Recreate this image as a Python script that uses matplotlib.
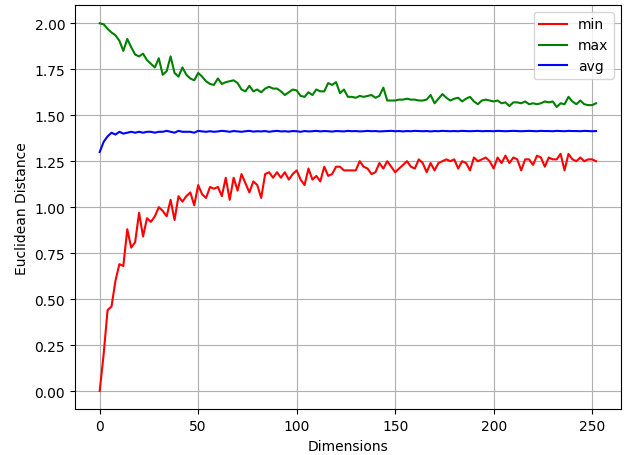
import numpy as np
import matplotlib
matplotlib.use("Agg")
import matplotlib.pyplot as plt

dims = np.arange(0, 254, 2)

min_dist = [
    0.00, 0.20, 0.44, 0.46, 0.60, 0.69, 0.68, 0.88, 0.78, 0.81,
    0.97, 0.84, 0.94, 0.92, 0.95, 1.00, 0.98, 0.95, 1.04, 0.93,
    1.06, 1.03, 1.06, 1.08, 1.01, 1.12, 1.07, 1.05, 1.11, 1.10,
    1.11, 1.06, 1.16, 1.04, 1.16, 1.09, 1.18, 1.13, 1.08, 1.14,
    1.12, 1.05, 1.18, 1.19, 1.16, 1.19, 1.16, 1.19, 1.15, 1.18,
    1.20, 1.15, 1.12, 1.21, 1.15, 1.17, 1.14, 1.22, 1.17, 1.18,
    1.22, 1.22, 1.20, 1.20, 1.20, 1.20, 1.25, 1.22, 1.21, 1.18,
    1.19, 1.24, 1.21, 1.25, 1.22, 1.19, 1.21, 1.23, 1.25, 1.22,
    1.21, 1.26, 1.24, 1.19, 1.24, 1.20, 1.24, 1.25, 1.26, 1.25,
    1.26, 1.21, 1.25, 1.24, 1.20, 1.27, 1.25, 1.26, 1.27, 1.25,
    1.21, 1.27, 1.24, 1.28, 1.24, 1.27, 1.26, 1.20, 1.26, 1.26,
    1.23, 1.28, 1.27, 1.22, 1.27, 1.26, 1.26, 1.29, 1.20, 1.29,
    1.26, 1.25, 1.27, 1.25, 1.26, 1.26, 1.25,
]

max_dist = [
    2.000, 1.995, 1.970, 1.950, 1.935, 1.905, 1.850, 1.915, 1.870, 1.830,
    1.820, 1.835, 1.800, 1.780, 1.760, 1.810, 1.720, 1.740, 1.820, 1.730,
    1.710, 1.760, 1.720, 1.700, 1.690, 1.730, 1.710, 1.685, 1.670, 1.665,
    1.700, 1.670, 1.680, 1.685, 1.690, 1.675, 1.640, 1.630, 1.660, 1.630,
    1.640, 1.625, 1.645, 1.655, 1.645, 1.645, 1.630, 1.610, 1.625, 1.640,
    1.635, 1.605, 1.600, 1.625, 1.610, 1.640, 1.630, 1.630, 1.675, 1.665,
    1.680, 1.620, 1.640, 1.600, 1.600, 1.595, 1.605, 1.600, 1.605, 1.610,
    1.595, 1.605, 1.650, 1.580, 1.580, 1.580, 1.585, 1.585, 1.590, 1.585,
    1.585, 1.580, 1.580, 1.585, 1.610, 1.565, 1.590, 1.615, 1.595, 1.580,
    1.590, 1.595, 1.575, 1.590, 1.600, 1.575, 1.560, 1.580, 1.585, 1.580,
    1.575, 1.580, 1.565, 1.570, 1.550, 1.570, 1.570, 1.565, 1.575, 1.560,
    1.565, 1.560, 1.565, 1.575, 1.570, 1.575, 1.545, 1.565, 1.560, 1.600,
    1.575, 1.560, 1.580, 1.560, 1.555, 1.555, 1.565,
]

avg_dist = [
    1.300, 1.355, 1.385, 1.405, 1.395, 1.410, 1.400, 1.405, 1.410, 1.405,
    1.410, 1.405, 1.410, 1.410, 1.405, 1.410, 1.410, 1.415, 1.410, 1.405,
    1.415, 1.410, 1.410, 1.410, 1.405, 1.415, 1.412, 1.410, 1.413, 1.410,
    1.412, 1.415, 1.413, 1.410, 1.414, 1.412, 1.410, 1.413, 1.415, 1.411,
    1.413, 1.412, 1.414, 1.410, 1.413, 1.415, 1.412, 1.413, 1.411, 1.414,
    1.413, 1.410, 1.414, 1.412, 1.413, 1.415, 1.412, 1.414, 1.413, 1.411,
    1.414, 1.413, 1.412, 1.415, 1.413, 1.414, 1.412, 1.413, 1.415, 1.413,
    1.414, 1.412, 1.413, 1.414, 1.415, 1.413, 1.414, 1.412, 1.414, 1.413,
    1.415, 1.414, 1.413, 1.414, 1.412, 1.414, 1.413, 1.415, 1.414, 1.413,
    1.414, 1.413, 1.415, 1.414, 1.413, 1.414, 1.415, 1.413, 1.414, 1.414,
    1.413, 1.415, 1.414, 1.413, 1.414, 1.415, 1.414, 1.413, 1.414, 1.415,
    1.414, 1.413, 1.415, 1.414, 1.414, 1.413, 1.415, 1.414, 1.413, 1.415,
    1.414, 1.414, 1.413, 1.415, 1.414, 1.413, 1.414,
]

fig, ax = plt.subplots(figsize=(6.24, 4.56), dpi=100)
fig.subplots_adjust(left=0.12, right=0.995, bottom=0.1, top=0.987)

ax.plot(dims, min_dist, color="red", label="min")
ax.plot(dims, max_dist, color="green", label="max")
ax.plot(dims, avg_dist, color="blue", label="avg")

ax.set_xlabel("Dimensions")
ax.set_ylabel("Euclidean Distance")
ax.grid(True)
ax.legend(loc="upper right")

fig.savefig("out.png", dpi=100)
